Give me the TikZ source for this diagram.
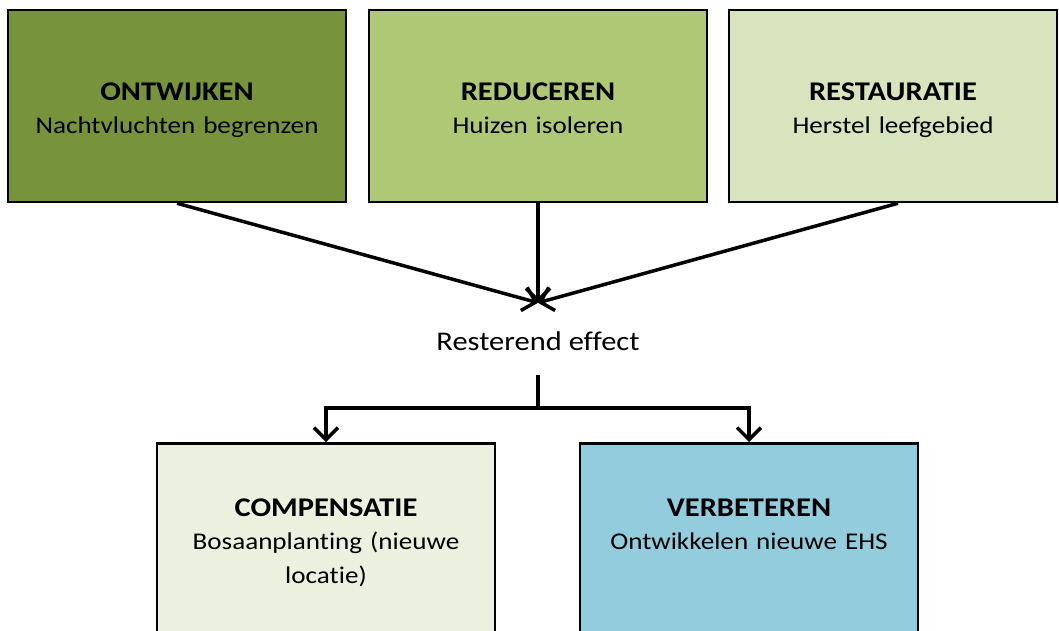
\documentclass[tikz,border=0pt]{standalone}
\usepackage{fontspec}
\setmainfont{Carlito}[FakeStretch=1.13, Ligatures=NoCommon]
\usetikzlibrary{arrows.meta,
                positioning}
\definecolor{mdark}{RGB}{119,147,60}
\definecolor{mmid}{RGB}{174,200,118}
\definecolor{mlight}{RGB}{215,228,189}
\definecolor{mpale}{RGB}{235,241,222}
\definecolor{mblue}{RGB}{147,205,221}
\tikzset{
    block/.style = {rectangle, draw, line width=2.5pt, minimum width=338pt,
                   minimum height=192pt, text width=320pt, align=center,
                   inner ysep=70pt, text height=20pt, text depth=32pt,
                   font=\fontsize{24}{33.5}\selectfont},
    lowblock/.style = {block, anchor=north, minimum height=0pt, inner ysep=53pt,
                   text depth=110pt},
    line/.style = {draw, line width=3.5pt, -{Straight Barb[length=12pt, width=24pt]}}
    }
\newcommand{\head}[1]{{\fontsize{27}{33.5}\selectfont\bfseries #1}}

\begin{document}
\begin{tikzpicture}[x=1pt, y=-1pt]
\useasboundingbox (0,0) rectangle (1059,630);
\node [block, fill=mdark] (ontw) at (177,106) {\head{ONTWIJKEN}\\Nachtvluchten begrenzen};% <-- top row
\node [block, right=20.5pt of ontw, fill=mmid] (redu) {\head{REDUCEREN}\\Huizen isoleren};
\node [block, right=19.5pt of redu, fill=mlight, minimum width=328pt] (resto) {\head{RESTAURATIE}\\Herstel leefgebied};
\node [inner xsep=0pt, inner ysep=19pt, text height=28pt, text depth=6pt,
       font=\fontsize{27}{32}\selectfont] (effect) at (538,339) {Resterend effect};
\node [lowblock, fill=mpale] (comp) at (326,442) {\head{COMPENSATIE}\\Bosaanplanting (nieuwe\\locatie)};% <-- bottom row
\node [lowblock, fill=mblue] (verb) at (749,442) {\head{VERBETEREN}\\Ontwikkelen nieuwe EHS};
\coordinate [below=33pt of effect.south] (split);
\path [line] (ontw.south) -- (effect.north);
\path [line] (redu.south) -- (effect.north);
\path [line] ([xshift=5pt]resto.south) -- (effect.north);
\path [line] (effect.south) -- (split) -| (comp.north);
\path [line] (effect.south) -- (split) -| (verb.north);
\end{tikzpicture}
\end{document}
